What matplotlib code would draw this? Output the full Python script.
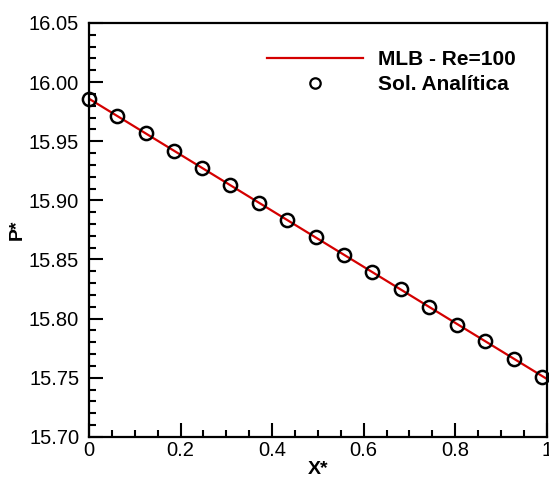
import matplotlib.pyplot as plt
from matplotlib.lines import Line2D
from matplotlib.ticker import MultipleLocator

plt.rcParams['font.family'] = ['Liberation Sans', 'DejaVu Sans']

# MLB solution (straight line)
x_mlb = [0.0, 1.0]
p_mlb = [15.986, 15.749]

# analytical solution points
x_ana = [0.0, 0.062, 0.124, 0.186, 0.248, 0.309, 0.371, 0.433, 0.495,
         0.557, 0.619, 0.681, 0.743, 0.804, 0.866, 0.928, 0.990]
p_ana = [15.986, 15.971, 15.957, 15.942, 15.927, 15.913, 15.898, 15.883, 15.869,
         15.854, 15.839, 15.825, 15.810, 15.795, 15.781, 15.766, 15.751]


def main():
    fig = plt.figure(figsize=(5.49, 4.79), dpi=100)
    ax = fig.add_axes([0.162, 0.088, 0.834, 0.864])

    ax.plot(x_mlb, p_mlb, color='#d40000', lw=1.6, zorder=2)
    ax.plot(x_ana, p_ana, 'o', ms=9.5, mfc='none', mec='black', mew=1.8,
            zorder=3, clip_on=False)

    ax.set_xlim(0, 1)
    ax.set_ylim(15.70, 16.05)
    ax.xaxis.set_major_locator(MultipleLocator(0.2))
    ax.xaxis.set_minor_locator(MultipleLocator(0.05))
    ax.yaxis.set_major_locator(MultipleLocator(0.05))
    ax.yaxis.set_minor_locator(MultipleLocator(0.01))
    ax.set_xticks([0, 0.2, 0.4, 0.6, 0.8, 1.0])
    ax.set_xticklabels(['0', '0.2', '0.4', '0.6', '0.8', '1'])
    ax.set_yticks([15.70 + 0.05 * i for i in range(8)])
    ax.set_yticklabels(['15.70', '15.75', '15.80', '15.85', '15.90',
                        '15.95', '16.00', '16.05'])

    ax.tick_params(which='both', direction='in', top=False, right=False,
                   width=1.5, labelsize=14.5)
    ax.tick_params(which='major', length=10)
    ax.tick_params(which='minor', length=5)
    ax.tick_params(axis='y', pad=7)
    ax.tick_params(axis='x', pad=3)
    for s in ax.spines.values():
        s.set_linewidth(1.6)

    ax.set_xlabel('X*', fontsize=14, fontweight='bold', labelpad=1)
    ax.set_ylabel('P*', fontsize=14, fontweight='bold', labelpad=2)

    handles = [Line2D([], [], color='#d40000', lw=1.6),
               Line2D([], [], ls='none', marker='o', ms=7.5, mfc='none',
                      mec='black', mew=1.6)]
    ax.legend(handles, ['MLB - Re=100', 'Sol. Analítica'], frameon=False,
              loc='upper left', bbox_to_anchor=(0.37, 0.955),
              prop={'weight': 'bold', 'size': 15}, handlelength=4.6,
              handletextpad=0.75, labelspacing=0.3, borderaxespad=0)

    fig.savefig('out.png', dpi=100)


if __name__ == "__main__":
    main()
